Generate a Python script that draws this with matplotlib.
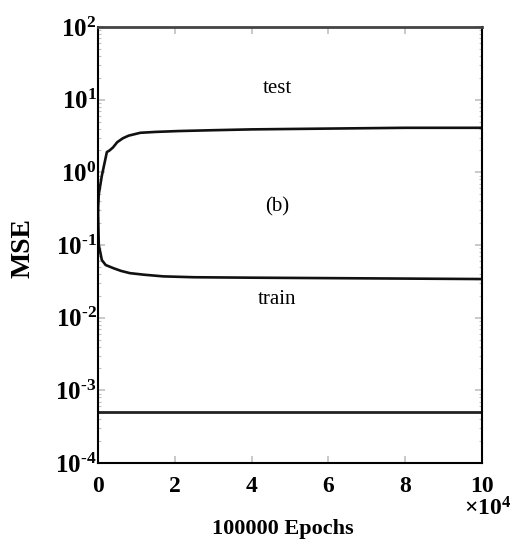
import matplotlib
matplotlib.use("Agg")
import matplotlib.pyplot as plt
from matplotlib.ticker import FixedLocator, LogLocator, NullFormatter

plt.rcParams["font.family"] = ["Liberation Serif", "DejaVu Serif"]
plt.rcParams["mathtext.fontset"] = "custom"
plt.rcParams["mathtext.rm"] = "Liberation Serif:bold"
plt.rcParams["mathtext.bf"] = "Liberation Serif:bold"
plt.rcParams["mathtext.it"] = "Liberation Serif:italic"

# ── Datos ────────────────────────────────────────────────────────────────────
epocas_test = [0, 200, 1000, 2300, 3000, 3900, 5000, 6500, 8000, 11000, 15000,
               21000, 30000, 40000, 50000, 60000, 70000, 80000, 90000, 100000]
mse_test = [0.3, 0.5, 0.9, 1.9, 2.0, 2.2, 2.6, 2.95, 3.2, 3.5, 3.6,
            3.7, 3.8, 3.9, 3.95, 4.0, 4.05, 4.1, 4.1, 4.1]

epocas_train = [0, 200, 1000, 2000, 4000, 6000, 8300, 12000, 17000, 25000,
                40000, 60000, 80000, 100000]
mse_train = [0.3, 0.1, 0.062, 0.053, 0.048, 0.044, 0.041, 0.039, 0.037, 0.036,
             0.0355, 0.035, 0.0345, 0.034]

epocas_meta = [0, 100000]
mse_meta = [5e-4, 5e-4]

xticks = [0, 20000, 40000, 60000, 80000, 100000]
xtick_labels = ["0", "2", "4", "6", "8", "10"]
yticks = [1e-4, 1e-3, 1e-2, 1e-1, 1e0, 1e1, 1e2]
ytick_labels = [r"$\mathbf{10^{\text{-}4}}$", r"$\mathbf{10^{\text{-}3}}$",
                r"$\mathbf{10^{\text{-}2}}$", r"$\mathbf{10^{\text{-}1}}$",
                r"$\mathbf{10^{0}}$", r"$\mathbf{10^{1}}$", r"$\mathbf{10^{2}}$"]

fig = plt.figure(figsize=(5.2, 5.51), dpi=100)
ax = fig.add_axes([0.1885, 0.1597, 0.7385, 0.7913])

ax.plot(epocas_test, mse_test, color="#111111", linewidth=1.9)
ax.plot(epocas_train, mse_train, color="#111111", linewidth=1.9)
ax.plot(epocas_meta, mse_meta, color="#222222", linewidth=2.0)

ax.set_yscale("log")
ax.set_xlim(0, 100000)
ax.set_ylim(1e-4, 1e2)

ax.xaxis.set_major_locator(FixedLocator(xticks))
ax.set_xticklabels(xtick_labels, fontsize=17, fontweight="bold")
ax.yaxis.set_major_locator(FixedLocator(yticks))
ax.set_yticklabels(ytick_labels, fontsize=18)
for etiqueta in ax.get_yticklabels():
    etiqueta.set_verticalalignment("center_baseline")
ax.yaxis.set_minor_locator(LogLocator(base=10, subs=range(2, 10)))
ax.yaxis.set_minor_formatter(NullFormatter())

ax.tick_params(which="both", direction="in", top=True, right=True, color="#c0c0c0")
ax.tick_params(axis="x", pad=9)
ax.tick_params(axis="y", pad=1)
ax.tick_params(which="major", length=5, width=1.2)
ax.tick_params(which="minor", length=2.5, width=0.8)

for lado in ["left", "bottom", "right"]:
    ax.spines[lado].set_color("black")
    ax.spines[lado].set_linewidth(1.5)
ax.spines["top"].set_color("#444444")
ax.spines["top"].set_linewidth(2.0)

ax.text(0.467, 0.86, "test", transform=ax.transAxes, ha="center", va="center", fontsize=15)
ax.text(0.467, 0.587, "(b)", transform=ax.transAxes, ha="center", va="center", fontsize=15)
ax.text(0.467, 0.374, "train", transform=ax.transAxes, ha="center", va="center", fontsize=15)

fig.text(0.044, 0.55, "MSE", rotation=90, ha="center", va="center",
         fontsize=20, fontweight="bold")
fig.text(0.543, 0.04, "100000 Epochs", ha="center", va="center",
         fontsize=16, fontweight="bold")
fig.text(0.937, 0.097, r"$\times\mathbf{10^{4}}$", ha="center", va="top", fontsize=17)

fig.savefig("out.png", dpi=100, facecolor="white")
